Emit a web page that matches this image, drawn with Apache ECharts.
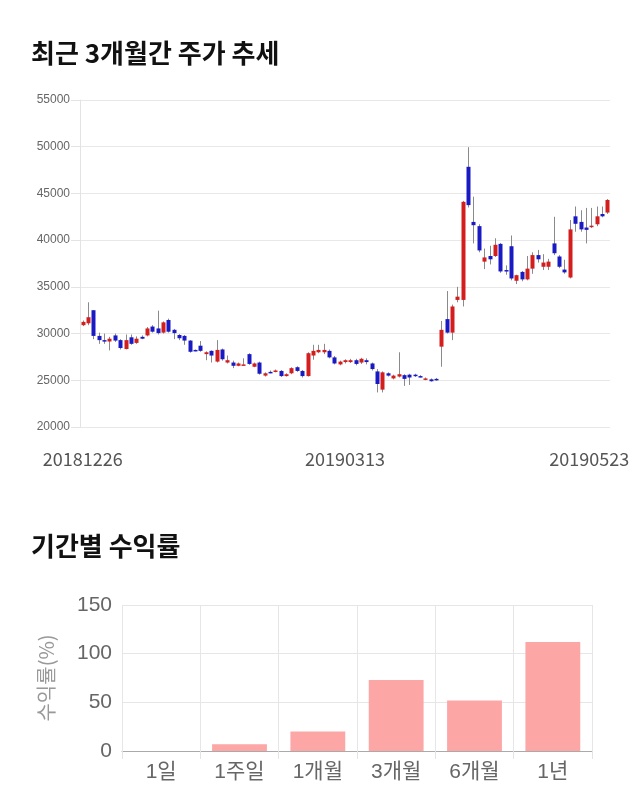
<!DOCTYPE html>
<html>
<head>
<meta charset="utf-8">
<script src="https://cdn.jsdelivr.net/npm/echarts@6/dist/echarts.min.js"></script>
<style>
html,body{margin:0;padding:0;background:#fff;}
#chart{width:640px;height:810px;}
</style>
</head>
<body>
<div id="chart"></div>
<script>
// ---- Data: daily candles (최근 3개월간 주가 추세) ----
const dates = [
  '20181226','20181227','20181228',
  '20190102','20190103','20190104','20190107','20190108','20190109','20190110','20190111',
  '20190114','20190115','20190116','20190117','20190118','20190121','20190122','20190123',
  '20190124','20190125','20190128','20190129','20190130','20190131',
  '20190201','20190207','20190208','20190211','20190212','20190213','20190214','20190215',
  '20190218','20190219','20190220','20190221','20190222','20190225','20190226','20190227','20190228',
  '20190304','20190305','20190306','20190307','20190308','20190311','20190312','20190313',
  '20190314','20190315','20190318','20190319','20190320','20190321','20190322','20190325',
  '20190326','20190327','20190328','20190329',
  '20190401','20190402','20190403','20190404','20190405','20190408','20190409','20190410',
  '20190411','20190412','20190415','20190416','20190417','20190418','20190419','20190422',
  '20190423','20190424','20190425','20190426','20190429','20190430',
  '20190502','20190503','20190507','20190508','20190509','20190510','20190513','20190514',
  '20190515','20190516','20190517','20190520','20190521','20190522','20190523'
];
const openPrices = [
  30900,31100,32500,29750,29300,29150,29800,29300,28350,29600,
  29000,29650,29800,30750,30550,30100,31450,30400,29850,29750,
  29250,28250,28700,27800,28150,27000,28300,26900,26900,26550,
  26700,27800,26450,26900,25500,25900,25950,26000,25450,25750,
  26400,26000,25450,27650,28000,28000,28150,27450,26700,26950,
  26950,27150,26900,27150,26800,25950,24000,25750,25200,25400,
  25550,25600,25600,25450,25050,25100,25150,28600,31550,30100,
  33600,33600,47850,41950,41500,37700,38300,38300,39600,36800,
  39350,35650,36600,35800,36950,38400,37150,37150,39650,38250,
  36850,36000,42550,41950,41350,41450,41700,42800,42950
];
const closePrices = [
  31250,31750,29750,29300,29150,29450,29250,28450,29300,28900,
  29450,29450,30550,30200,30050,31200,30200,30050,29500,29250,
  28050,28150,28150,28000,27650,28250,27250,27150,26550,26800,
  26700,26750,26800,25700,25750,25850,26050,25450,25650,26300,
  26000,25450,27900,28150,28250,28250,27450,26800,27000,27150,
  27150,26750,27300,26950,26200,24600,25850,25500,25500,25650,
  25150,25300,25450,25400,25200,24900,25000,30400,30100,32900,
  33950,44100,43750,41600,38900,38150,37950,39500,36650,36650,
  35900,36250,35800,36950,38400,37950,37600,37700,38600,37150,
  36550,41150,41750,41150,41100,41550,42550,42550,44300
];
const lowPrices = [
  30800,30900,29400,28900,28900,28200,29100,28300,28300,28800,
  28900,29400,29700,30100,29900,30000,30100,29400,29300,28800,
  27950,28100,28050,27150,26900,26900,27100,26800,26300,26500,
  26650,26650,26400,25600,25400,25750,25850,25350,25400,25650,
  25900,25300,25400,27200,27900,27800,27350,26700,26600,26800,
  26850,26600,26750,26700,26050,23700,23700,25400,25100,25300,
  24400,24500,25350,25300,25000,24850,24950,26450,30000,29300,
  33350,32900,43500,39650,38700,36900,37400,38200,36500,36300,
  35700,35300,35600,35700,36400,37600,36800,36800,38400,37000,
  36400,35900,40900,40900,39650,41300,41500,42450,42800
];
const highPrices = [
  31400,33350,32500,30100,30000,29650,30000,29400,29900,29900,
  29700,29800,30700,30900,32450,31300,31600,30500,29950,29850,
  29300,28300,29200,28100,28200,29300,28400,27650,27100,26900,
  27350,27900,26900,27000,25850,26050,26150,26100,25750,26400,
  26500,26100,28000,28800,28800,28900,28300,27600,27100,27250,
  27300,27300,27400,27350,26900,26200,25950,25850,25600,28000,
  25650,25700,25700,25550,25300,25200,25250,31350,34550,33100,
  35000,44200,49950,44650,41700,39100,39400,40200,39700,37300,
  40500,36300,36700,38300,38700,38950,38500,38000,42500,38400,
  37900,42150,43600,43200,43450,43450,43600,43600,44400
];
const priceTicks = { min: 20000, max: 55000, step: 5000 };

// ---- Data: 기간별 수익률 ----
const periods = ['1일','1주일','1개월','3개월','6개월','1년'];
const returns = [0, 7, 20, 73, 52, 112];

const RED = '#d41e1e', BLUE = '#1a1ac4';
const FONT = '"Noto Sans CJK KR", "Noto Sans", sans-serif';

const candleData = dates.map((d, i) => [i, openPrices[i], closePrices[i], lowPrices[i], highPrices[i]]);

const chart = echarts.init(document.getElementById('chart'), null, {renderer: 'canvas'});
chart.setOption({
  animation: false,
  backgroundColor: '#fff',
  title: [
    {text: '최근 3개월간 주가 추세', left: 26, top: 33,
     textStyle: {fontFamily: FONT, fontSize: 26, fontWeight: 'bold', color: '#111', lineHeight: 30}},
    {text: '기간별 수익률', left: 26, top: 526,
     textStyle: {fontFamily: FONT, fontSize: 26, fontWeight: 'bold', color: '#111', lineHeight: 30}}
  ],
  grid: [
    {left: 80, right: 30, top: 100, bottom: 383},
    {left: 122, right: 48, top: 605, bottom: 59}
  ],
  xAxis: [
    {type: 'category', gridIndex: 0, data: dates, boundaryGap: true,
     axisLine: {show: false}, axisTick: {show: false}, splitLine: {show: false},
     axisLabel: {interval: 48, margin: 23, color: '#555', fontSize: 18, fontFamily: FONT,
       formatter: function (v, idx) { return idx === dates.length - 1 ? '{last|' + v + '}' : v; },
       rich: {last: {padding: [0, 36, 0, 0], color: '#555', fontSize: 18, fontFamily: FONT}}}},
    {type: 'category', gridIndex: 1, data: periods,
     axisLine: {show: true, lineStyle: {color: '#aaa'}},
     axisTick: {show: true, length: 8, lineStyle: {color: '#e3e3e3'}},
     splitLine: {show: true, lineStyle: {color: '#e6e6e6'}},
     axisLabel: {margin: 11, color: '#666', fontSize: 21, fontFamily: '"Liberation Sans", "Noto Sans CJK KR", sans-serif'}}
  ],
  yAxis: [
    {type: 'value', gridIndex: 0, min: priceTicks.min, max: priceTicks.max, interval: priceTicks.step,
     axisLine: {show: true, lineStyle: {color: '#e3e3e3'}},
     axisTick: {show: true, length: 9, lineStyle: {color: '#e3e3e3'}},
     splitLine: {show: true, lineStyle: {color: '#e8e8e8'}},
     axisLabel: {margin: 10, color: '#666', fontSize: 12, fontFamily: '"Liberation Sans", sans-serif',
       formatter: function (v) { return String(v); }}},
    {type: 'value', gridIndex: 1, min: 0, max: 150, interval: 50,
     name: '수익률(%)', nameLocation: 'middle', nameGap: 66, nameRotate: 90,
     nameTextStyle: {color: '#999', fontSize: 20, fontFamily: FONT},
     axisLine: {show: false}, axisTick: {show: false},
     splitLine: {show: true, lineStyle: {color: '#e6e6e6'}},
     axisLabel: {margin: 10, color: '#666', fontSize: 21, fontFamily: '"Liberation Sans", sans-serif'}}
  ],
  series: [
    {type: 'custom', xAxisIndex: 0, yAxisIndex: 0, data: candleData,
     encode: {x: 0, y: [1, 2, 3, 4]},
     renderItem: function (params, api) {
       const i = api.value(0);
       const o = api.value(1), c = api.value(2), l = api.value(3), h = api.value(4);
       const pO = api.coord([i, o]), pC = api.coord([i, c]);
       const pL = api.coord([i, l]), pH = api.coord([i, h]);
       const x = Math.round(pO[0]);
       const top = Math.min(pO[1], pC[1]), bot = Math.max(pO[1], pC[1]);
       const color = c >= o ? RED : BLUE;
       return {type: 'group', children: [
         {type: 'line', shape: {x1: x + 0.5, y1: pH[1], x2: x + 0.5, y2: pL[1]},
          style: {stroke: '#8a8a8a', lineWidth: 1}},
         {type: 'rect', shape: {x: x - 1.5, y: top, width: 4, height: Math.max(bot - top, 1.5)},
          style: {fill: color}}
       ]};
     }},
    {type: 'bar', xAxisIndex: 1, yAxisIndex: 1, data: returns, barWidth: '70%',
     itemStyle: {color: '#fca6a6'}}
  ]
});
</script>
</body>
</html>
